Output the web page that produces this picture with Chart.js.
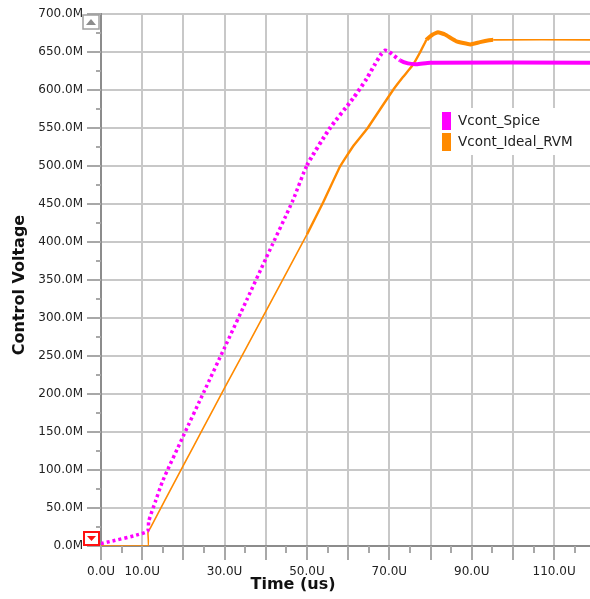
<!DOCTYPE html>
<html>
<head>
<meta charset="utf-8">
<script src="https://cdn.jsdelivr.net/npm/chart.js@4/dist/chart.umd.min.js"></script>
<style>
  html, body { margin: 0; padding: 0; background: #ffffff; }
  #wrap { width: 590px; height: 599px; position: relative; }
</style>
</head>
<body>
<div id="wrap"><canvas id="chart" width="590" height="599"></canvas></div>
<script>
// Transient response of the control voltage (time in us, voltage in "M" units)
const spiceTime   = [0, 11.2, 11.6, 13.3, 15, 20, 25, 30, 35.4, 40, 46.6, 50, 55.6, 61.2, 64.5, 66.5, 68, 69, 70, 72.6, 74.5, 76.6, 79.9, 118.7];
const spiceValues = [3, 19, 33, 60, 86, 145, 203, 261, 324, 378, 455, 501, 550, 589, 615, 634, 647, 652, 650, 639, 635, 634, 636, 636];

const idealTime   = [0, 11.4, 11.4, 12, 15.5, 20, 25, 30, 35, 41.5, 50, 54, 58, 61.2, 64.6, 67.8, 70.9, 73.3, 75.7, 77.5, 79, 80.5, 81.8, 83.5, 86.3, 89.6, 92, 95.2, 118.7];
const idealValues = [0, 0, 18, 24, 60, 106, 157, 208, 258, 324, 410, 453, 499, 526, 549, 575, 600, 617, 633, 650, 666, 673, 676, 673, 664, 660, 663, 666, 666];

const seriesNames = ['Vcont_Spice', 'Vcont_Ideal_RVM'];
const seriesColors = ['#ff00ff', '#ff8a00'];

const xLabelled = [0, 10, 30, 50, 70, 90, 110];
const xMax = 118.7;
const yMax = 700;

// plot frame inside the 590x599 canvas
const FRAME = { left: 101, top: 14, right: 590, bottom: 546 };

const toPoints = (xs, ys) => xs.map((x, i) => ({ x: x, y: ys[i] }));
const isMultiple = (v, step) => Math.abs(v / step - Math.round(v / step)) < 1e-6;

const GRID = '#c8c8c8';
const AXIS = '#8c8c8c';
const TICK = '#a8a8a8';
const NONE = 'rgba(0,0,0,0)';

// Short tick marks outside the plot, long at labelled steps and short in between
const tickMarks = {
  id: 'tickMarks',
  afterDraw(chart) {
    const { ctx, scales: { x, y }, chartArea: a } = chart;
    ctx.save();
    ctx.strokeStyle = TICK;
    ctx.lineWidth = 2;
    for (let v = 0; v <= yMax + 1e-6; v += 25) {
      const py = Math.round(y.getPixelForValue(v));
      const len = isMultiple(v, 50) ? 14 : 5;
      ctx.beginPath();
      ctx.moveTo(a.left - len, py);
      ctx.lineTo(a.left, py);
      ctx.stroke();
    }
    for (let v = 0; v <= xMax; v += 5) {
      const px = Math.round(x.getPixelForValue(v));
      const len = isMultiple(v, 10) ? 14 : 7;
      ctx.beginPath();
      ctx.moveTo(px, a.bottom);
      ctx.lineTo(px, a.bottom + len);
      ctx.stroke();
    }
    ctx.restore();
  }
};

// Axis titles, scroll markers and the series key
const decorations = {
  id: 'decorations',
  afterDraw(chart) {
    const { ctx, chartArea: a } = chart;
    ctx.save();

    // axis titles
    ctx.fillStyle = '#111111';
    ctx.font = 'bold 16px "DejaVu Sans"';
    ctx.textAlign = 'center';
    ctx.textBaseline = 'middle';
    ctx.fillText('Time (us)', 293, 585);
    ctx.save();
    ctx.translate(20, 285);
    ctx.rotate(-Math.PI / 2);
    ctx.fillText('Control Voltage', 0, 0);
    ctx.restore();

    // up marker at the top of the value axis
    const topY = a.top;
    ctx.fillStyle = '#ffffff';
    ctx.fillRect(a.left - 18, topY + 1, 16, 14);
    ctx.strokeStyle = '#a0a0a0';
    ctx.lineWidth = 1.5;
    ctx.strokeRect(a.left - 18, topY + 1, 16, 14);
    ctx.fillStyle = '#8c8c8c';
    ctx.beginPath();
    ctx.moveTo(a.left - 15, topY + 11);
    ctx.lineTo(a.left - 5, topY + 11);
    ctx.lineTo(a.left - 10, topY + 5);
    ctx.closePath();
    ctx.fill();

    // down marker at the bottom of the value axis
    const botY = a.bottom;
    ctx.fillStyle = '#ffffff';
    ctx.fillRect(a.left - 17, botY - 14, 15, 13);
    ctx.strokeStyle = '#ff1010';
    ctx.lineWidth = 2;
    ctx.strokeRect(a.left - 17, botY - 14, 15, 13);
    ctx.fillStyle = '#ff1010';
    ctx.beginPath();
    ctx.moveTo(a.left - 14, botY - 10);
    ctx.lineTo(a.left - 5, botY - 10);
    ctx.lineTo(a.left - 9.5, botY - 5);
    ctx.closePath();
    ctx.fill();

    // series key
    ctx.fillStyle = '#ffffff';
    ctx.fillRect(432, 108, 158, 47);
    ctx.font = '13.5px "DejaVu Sans"';
    ctx.textAlign = 'left';
    ctx.textBaseline = 'middle';
    chart.data.datasets.forEach((ds, i) => {
      const top = 112 + i * 21;
      ctx.fillStyle = ds.borderColor;
      ctx.fillRect(442, top, 9, 18);
      ctx.fillStyle = '#222222';
      ctx.fillText(ds.label, 458, top + 9.5);
    });

    ctx.restore();
  }
};

new Chart(document.getElementById('chart'), {
  type: 'line',
  data: {
    datasets: [
      {
        label: seriesNames[0],
        data: toPoints(spiceTime, spiceValues),
        borderColor: seriesColors[0],
        backgroundColor: seriesColors[0],
        borderWidth: 3.5,
        borderCapStyle: 'butt',
        pointRadius: 0,
        tension: 0.2,
        segment: {
          borderDash: c => (c.p0.parsed.x < 72 ? [3, 3] : undefined),
          borderWidth: c => (c.p0.parsed.x < 50 ? 3.5 : 4)
        }
      },
      {
        label: seriesNames[1],
        data: toPoints(idealTime, idealValues),
        borderColor: seriesColors[1],
        backgroundColor: seriesColors[1],
        borderWidth: 1.6,
        pointRadius: 0,
        tension: 0.1,
        segment: {
          borderWidth: c => {
            const t = c.p0.parsed.x;
            if (t >= 79 && t < 95) return 4;
            if (t >= 50 && t < 79) return 2.4;
            return 1.6;
          }
        }
      }
    ]
  },
  options: {
    responsive: false,
    animation: false,
    layout: {
      padding: { top: FRAME.top, right: 590 - FRAME.right, left: 0, bottom: 0 }
    },
    plugins: {
      legend: { display: false },
      tooltip: { enabled: false }
    },
    scales: {
      x: {
        type: 'linear',
        min: 0,
        max: xMax,
        afterFit: s => { s.height = 599 - FRAME.bottom; },
        border: { display: true, color: AXIS, width: 2 },
        grid: {
          drawTicks: true,
          tickLength: 19,
          tickColor: NONE,
          lineWidth: 2,
          color: c => (c.tick && isMultiple(c.tick.value, 10) ? GRID : NONE)
        },
        ticks: {
          stepSize: 5,
          autoSkip: false,
          maxRotation: 0,
          padding: 0,
          color: '#222222',
          font: { family: '"DejaVu Sans"', size: 12 },
          callback: v => (xLabelled.some(l => Math.abs(v - l) < 1e-6) ? v.toFixed(1) + 'U' : '')
        }
      },
      y: {
        type: 'linear',
        min: 0,
        max: yMax,
        afterFit: s => { s.width = FRAME.left; },
        border: { display: true, color: AXIS, width: 2 },
        grid: {
          drawTicks: true,
          tickLength: 18,
          tickColor: NONE,
          lineWidth: 2,
          color: c => (c.tick && isMultiple(c.tick.value, 50) ? GRID : NONE)
        },
        ticks: {
          stepSize: 25,
          autoSkip: false,
          padding: 0,
          color: '#222222',
          font: { family: '"DejaVu Sans"', size: 12 },
          callback: v => (isMultiple(v, 50) ? v.toFixed(1) + 'M' : '')
        }
      }
    }
  },
  plugins: [tickMarks, decorations]
});
</script>
</body>
</html>
